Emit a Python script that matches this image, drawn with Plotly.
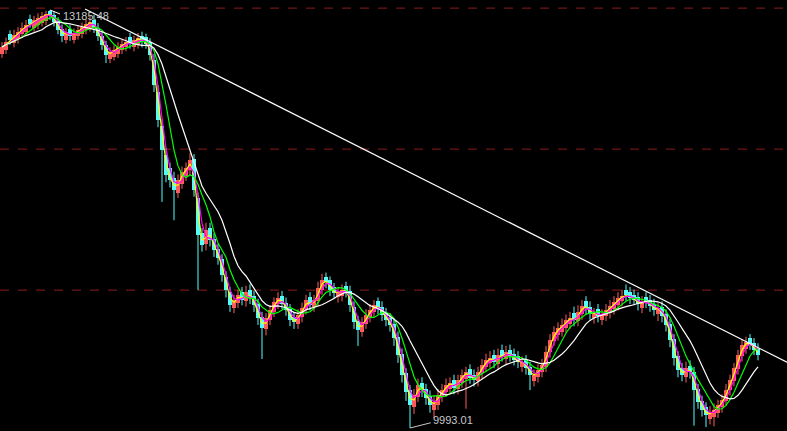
import plotly.graph_objects as go
import pandas as pd

opens = [12850,12880,13000,12930,12965,13000,13020,13120,13050,13070,13090,13100,13175,13150,13100,13040,12960,13040,12960,12990,
13000,13030,13050,13110,13050,12990,12920,12810,12830,12850,12880,12900,12980,12900,12920,12990,12980,12940,12800,12560,
12300,12080,11980,11900,11790,11860,11920,11960,12050,11750,11480,11400,11520,11440,11360,11280,11150,11030,10910,10950,
11030,10960,11050,11000,10940,10840,10750,10820,10880,10940,11000,10950,10900,10840,10790,10840,10900,10990,10920,10960,
11050,11150,11120,11070,10990,11000,11080,11040,10920,10810,10730,10790,10840,10880,10960,10920,10870,10830,10790,10690,
10560,10410,10280,10150,10230,10340,10290,10240,10130,10170,10230,10270,10290,10360,10290,10340,10370,10440,10400,10350,
10410,10460,10490,10550,10480,10590,10520,10590,10560,10540,10460,10510,10460,10350,10380,10420,10460,10570,10660,10700,
10730,10760,10790,10870,10810,10860,10960,10920,10830,10900,10820,10850,10870,10900,10930,10960,11050,11030,11010,10990,
10910,10990,10970,10940,10860,10920,10860,10790,10670,10540,10450,10380,10470,10420,10290,10200,10150,10060,10080,10110,
10150,10200,10280,10350,10440,10540,10600,10680,10640,10600]

highs = [12940,12975,13030,13035,13055,13090,13110,13150,13140,13160,13170,13180,13185.48,13175,13130,13075,13050,13070,13045,13065,
13090,13115,13140,13150,13085,13020,12950,12900,12915,12940,12960,12980,13010,12990,13010,13020,13005,12970,12850,12610,
12350,12130,12020,11950,11930,11990,12020,12095,12085,11790,11520,11560,11560,11480,11400,11320,11190,11070,11010,11050,
11070,11080,11090,11040,10980,10880,10870,10930,10990,11030,11040,10990,10940,10880,10900,10950,11010,11030,11010,11110,
11170,11180,11150,11100,11070,11090,11110,11080,10960,10850,10840,10900,10940,10970,10990,10960,10910,10870,10830,10730,
10600,10450,10320,10290,10370,10380,10330,10280,10240,10290,10330,10370,10380,10400,10400,10440,10460,10480,10440,10460,
10520,10560,10580,10590,10600,10630,10620,10630,10600,10580,10540,10550,10500,10440,10480,10520,10620,10710,10770,10800,
10830,10860,10880,10920,10930,10970,11000,10960,10910,10940,10900,10940,10970,11000,11030,11050,11090,11070,11050,11030,
11000,11030,11010,10980,10950,10960,10900,10830,10710,10580,10490,10500,10510,10460,10330,10240,10190,10160,10180,10210,
10250,10330,10400,10490,10590,10670,10690,10710,10680,10640]

lows = [12820,12850,12920,12900,12930,12970,12990,13050,13020,13040,13060,13070,13110,13060,13000,12940,12930,12950,12930,12960,
12970,13000,13020,13010,12950,12880,12780,12780,12800,12820,12850,12870,12890,12870,12890,12900,12890,12800,12560,12290,
11720,11870,11830,11580,11750,11820,11880,11920,11760,11046,11340,11350,11380,11300,11240,11110,10990,10880,10870,10910,
10930,10920,10940,10880,10780,10520,10700,10780,10840,10900,10900,10850,10770,10750,10750,10800,10860,10890,10880,10920,
11010,11060,11000,10980,10950,10960,10990,10880,10750,10620,10690,10750,10800,10840,10860,10810,10770,10730,10620,10490,
10340,10200,9993.01,10100,10190,10230,10170,10110,10070,10130,10190,10230,10250,10250,10250,10300,10140,10330,10310,10310,
10370,10420,10450,10450,10440,10500,10480,10500,10470,10450,10420,10400,10282,10310,10340,10380,10420,10530,10620,10660,
10690,10720,10750,10770,10770,10820,10860,10820,10790,10800,10780,10810,10830,10860,10890,10920,10960,10940,10930,10890,
10870,10910,10880,10850,10810,10800,10730,10610,10470,10380,10350,10340,10370,10010,10140,10080,10000,10020,10005,10070,
10110,10160,10240,10310,10400,10500,10560,10590,10550,10510]

closes = [12903,12941,12956,12995,13018,13048,13071,13079,13109,13125,13140,13155,13147,13094,13033,12987,13018,12987,13010,13033,
13056,13079,13094,13048,12987,12918,12842,12865,12880,12903,12926,12941,12926,12956,12972,12941,12926,12842,12613,12345,
12116,11925,11887,11810,11887,11948,11978,12040,11810,11467,11390,11505,11428,11352,11291,11161,11046,10932,10970,11008,
10970,11031,10985,10932,10832,10756,10832,10894,10955,10985,10939,10894,10817,10802,10855,10909,10970,10932,10970,11062,
11123,11107,11046,11023,11031,11046,11031,10932,10802,10741,10802,10855,10894,10932,10909,10855,10817,10779,10680,10550,
10397,10267,10168,10244,10321,10282,10221,10168,10191,10244,10282,10321,10336,10298,10359,10397,10420,10374,10359,10420,
10473,10512,10527,10496,10550,10542,10573,10542,10512,10496,10496,10450,10397,10397,10435,10473,10573,10664,10725,10756,
10779,10817,10832,10817,10878,10924,10909,10863,10871,10848,10863,10894,10924,10955,10985,11001,11008,10985,10970,10939,
10955,10955,10924,10894,10909,10848,10779,10664,10527,10435,10397,10450,10420,10282,10191,10130,10091,10114,10130,10168,
10206,10282,10359,10450,10550,10626,10649,10626,10588,10550]

ma_periods = [2, 3, 6, 11]
ma_colors = ["#ffff00", "#ff00ff", "#00ff00", "#ffffff"]
up_color = "#ff5a5a"
down_color = "#54fcfc"
grid_levels = [13200, 12123, 11046]
trend_x = [20.75, 196.25]
trend_y = [13193, 10496]
high_label = "13185.48"
low_label = "9993.01"

idx = list(range(len(closes)))
fig = go.Figure()

is_up = [c >= o for o, c in zip(opens, closes)]
body_base = [min(o, c) for o, c in zip(opens, closes)]
body_h = [max(abs(c - o), 8) for o, c in zip(opens, closes)]
colors = [up_color if u else down_color for u in is_up]

fig.add_trace(go.Bar(x=idx, base=body_base, y=body_h, width=0.78,
                     marker=dict(color=colors, line=dict(width=0)),
                     hoverinfo="skip", showlegend=False))

for want_up, col in [(True, up_color), (False, down_color)]:
    wx, wy = [], []
    for i in idx:
        if is_up[i] == want_up:
            wx += [i, i, None]
            wy += [lows[i], highs[i], None]
    fig.add_trace(go.Scatter(x=wx, y=wy, mode="lines", line=dict(color=col, width=1),
                             hoverinfo="skip", showlegend=False))

s = pd.Series(closes)
for p, c in zip(ma_periods, ma_colors):
    fig.add_trace(go.Scatter(x=idx, y=s.rolling(p, min_periods=1).mean(), mode="lines",
                             line=dict(color=c, width=1.2), hoverinfo="skip", showlegend=False))

for lv in grid_levels:
    fig.add_shape(type="line", xref="paper", x0=0, x1=1, yref="y", y0=lv, y1=lv,
                  line=dict(color="#8c1c1c", width=1, dash="dash"), layer="below")

fig.add_trace(go.Scatter(x=trend_x, y=trend_y, mode="lines", line=dict(color="#ffffff", width=1.2),
                         hoverinfo="skip", showlegend=False))

hi_i = highs.index(max(highs))
lo_i = lows.index(min(lows))
fig.add_trace(go.Scatter(x=[hi_i, hi_i + 2.5], y=[max(highs), max(highs) - 30], mode="lines",
                         line=dict(color="#ffffff", width=1), hoverinfo="skip", showlegend=False))
fig.add_trace(go.Scatter(x=[lo_i, lo_i + 5.2], y=[min(lows), min(lows) + 40], mode="lines",
                         line=dict(color="#c8c8c8", width=1), hoverinfo="skip", showlegend=False))
fig.add_annotation(x=hi_i + 2.7, y=max(highs) - 45, text=high_label, showarrow=False, xanchor="left",
                   yanchor="middle", font=dict(family="Liberation Sans, Arial", size=11, color="#c8c8c8"))
fig.add_annotation(x=lo_i + 5.2, y=min(lows) + 62, text=low_label, showarrow=False, xanchor="left",
                   yanchor="middle", font=dict(family="Liberation Sans, Arial", size=11, color="#c8c8c8"))

fig.update_layout(
    width=787, height=431, margin=dict(l=0, r=0, t=0, b=0),
    paper_bgcolor="#000000", plot_bgcolor="#000000",
    xaxis=dict(range=[-0.5, 196.25], visible=False),
    yaxis=dict(range=[9970, 13262], visible=False),
    bargap=0,
)
fig.write_html("out.html", config={"displayModeBar": False},
               post_script="document.body.style.margin='0';document.body.style.background='#000';document.body.style.overflow='hidden';")
